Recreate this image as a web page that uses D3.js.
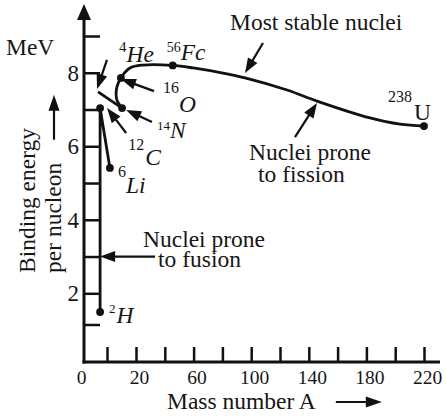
<!DOCTYPE html>
<html>
<head>
<meta charset="utf-8">
<script src="https://cdn.jsdelivr.net/npm/d3@7"></script>
<style>
  html, body { margin: 0; padding: 0; background: #fff; }
  svg { display: block; }
  text { font-family: "Liberation Serif", "Times New Roman", serif; fill: #161616; }
</style>
</head>
<body>
<svg id="chart" width="446" height="416"></svg>
<script>
// Binding energy per nucleon against mass number (schematic textbook curve)

// axis ticks and labels
const xTickValues = [10, 20, 40, 60, 80, 100, 120, 140, 160, 180, 200, 220];
const xTickLabels = [0, 20, 60, 100, 140, 180, 220];
const yTickValues = [1, 2, 3, 4, 5, 6, 7, 8, 9];
const yTickLabels = [2, 4, 6, 8];

// marked nuclides
const nuclideNames  = ["2H", "4He", "6Li", "14N", "16O", "56Fc", "238U"];
const nuclideMass   = [7, 7, 11, 15.2, 14.8, 45.5, 220];
const nuclideEnergy = [1.4, 7.04, 5.41, 7.04, 7.86, 8.2, 6.55];

// light branch: 2H straight up to 4He, then down to 6Li
const lightMass   = [7, 7, 11];
const lightEnergy = [1.4, 7.04, 5.41];

// short stretch through 12C into 14N
const carbonMass   = [6.1, 15.2];
const carbonEnergy = [7.48, 7.04];

// main curve from 14N over 16O and the iron peak down to 238U
const mainMass   = [15.2, 13.4, 13.4, 14.8, 17.9, 24.9, 45.5, 59.7, 80.4, 95.7, 124.9, 145.7, 182.5, 203.3, 220];
const mainEnergy = [7.04, 7.26, 7.61, 7.86, 8.13, 8.21, 8.2, 8.13, 7.99, 7.86, 7.53, 7.23, 6.77, 6.6, 6.55];

// ---------------------------------------------------------------------------
const svg = d3.select("#chart");
const INK = "#111";

// the printed axes are not evenly spaced at the low end, hence piecewise scales
const x = d3.scaleLinear().domain([0, 10, 20, 220]).range([84, 107, 136, 424]);
const y = d3.scaleLinear().domain([0, 1, 2, 9]).range([362, 324.5, 293.3, 36]);

const FONT = 23.5;

function arrow(g, x1, y1, x2, y2, len, half, width) {
  const dx = x2 - x1, dy = y2 - y1;
  const L = Math.hypot(dx, dy);
  const ux = dx / L, uy = dy / L;
  const bx = x2 - ux * len, by = y2 - uy * len;
  g.append("line")
    .attr("x1", x1).attr("y1", y1)
    .attr("x2", x2 - ux * (len * 0.6)).attr("y2", y2 - uy * (len * 0.6))
    .attr("stroke", INK).attr("stroke-width", width);
  g.append("path")
    .attr("d", `M${x2},${y2}L${bx - uy * half},${by + ux * half}L${bx + uy * half},${by - ux * half}Z`)
    .attr("fill", INK);
}

// ---- axes -----------------------------------------------------------------
const axes = svg.append("g");

// vertical axis with arrow head
arrow(axes, x(0), y(0) + 1.5, x(0), 4, 16, 7, 3);
// horizontal axis line
axes.append("line")
  .attr("x1", x(0) - 1.5).attr("x2", 440)
  .attr("y1", y(0)).attr("y2", y(0))
  .attr("stroke", INK).attr("stroke-width", 3);

// x ticks pointing up into the plot
const xTicks = axes.append("g")
  .attr("transform", `translate(0,${y(0)})`)
  .call(d3.axisBottom(x).tickValues(xTickValues).tickSize(-15).tickFormat(""));
xTicks.select(".domain").remove();
xTicks.selectAll(".tick line").attr("stroke", INK).attr("stroke-width", 2.5);

const xLabels = axes.append("g")
  .attr("transform", `translate(0,${y(0)})`)
  .call(d3.axisBottom(x).tickValues(xTickLabels).tickSize(0).tickPadding(8).tickFormat(d3.format("d")));
xLabels.select(".domain").remove();
xLabels.selectAll("text")
  .attr("font-family", null)
  .style("font-size", "19.5px")
  .attr("fill", "#1a1a1a")
  .attr("dx", d => d === 0 ? -3 : 3);

// y ticks pointing right
const yTicks = axes.append("g")
  .attr("transform", `translate(${x(0)},0)`)
  .call(d3.axisRight(y).tickValues(yTickValues).tickSize(16).tickFormat(""));
yTicks.select(".domain").remove();
yTicks.selectAll(".tick line").attr("stroke", INK).attr("stroke-width", 2.5);

const yLabels = axes.append("g")
  .attr("transform", `translate(${x(0)},0)`)
  .call(d3.axisLeft(y).tickValues(yTickLabels).tickSize(0).tickPadding(5).tickFormat(d3.format("d")));
yLabels.select(".domain").remove();
yLabels.selectAll("text")
  .attr("font-family", null)
  .style("font-size", "23px")
  .attr("fill", "#1a1a1a");

// unit
svg.append("text").attr("x", 6).attr("y", 55).style("font-size", FONT + "px").text("MeV");

// y title, two rotated lines plus an upward arrow
const yt1 = svg.append("text")
  .attr("transform", "translate(35,273) rotate(-90)")
  .style("font-size", FONT + "px").text("Binding energy");
const yt2 = svg.append("text")
  .attr("transform", "translate(61,273) rotate(-90)")
  .style("font-size", FONT + "px").text("per nucleon");
{
  const end = 273 - yt2.node().getComputedTextLength();
  arrow(svg, 54, end - 23, 54, end - 68, 16, 5.5, 2.2);
}

// x title with right arrow
const xt = svg.append("text").attr("x", 167).attr("y", 409)
  .style("font-size", FONT + "px").text("Mass number A");
{
  const end = 167 + xt.node().getComputedTextLength();
  arrow(svg, end + 20, 402, end + 66, 402, 16, 5.5, 2);
}

// ---- curve ----------------------------------------------------------------
const plot = svg.append("g");

const straight = d3.line().x(d => x(d[0])).y(d => y(d[1]));
const smooth = d3.line().x(d => x(d[0])).y(d => y(d[1])).curve(d3.curveCatmullRom.alpha(0.5));

plot.append("path")
  .attr("d", straight(d3.zip(lightMass, lightEnergy)))
  .attr("fill", "none").attr("stroke", INK).attr("stroke-width", 2.8).attr("stroke-linejoin", "round");
plot.append("path")
  .attr("d", straight(d3.zip(carbonMass, carbonEnergy)))
  .attr("fill", "none").attr("stroke", INK).attr("stroke-width", 2.8);
plot.append("path")
  .attr("d", smooth(d3.zip(mainMass, mainEnergy)))
  .attr("fill", "none").attr("stroke", INK).attr("stroke-width", 2.8).attr("stroke-linejoin", "round");

plot.selectAll("circle.nuclide")
  .data(d3.zip(nuclideNames, nuclideMass, nuclideEnergy))
  .join("circle")
  .attr("class", "nuclide")
  .attr("cx", d => x(d[1])).attr("cy", d => y(d[2]))
  .attr("r", 3.9).attr("fill", INK);

// ---- callouts -------------------------------------------------------------
// arrow tail and tip, in chart units
const callouts = [
  { from: [108.2, 8.81], to: [95.7, 7.99] },   // most stable
  { from: [130.4, 6.25], to: [145.7, 7.18] },  // fission
  { from: [33.2, 3.0],  to: [7, 3.0] },        // fusion
  { from: [10, 8.35],   to: [5.65, 7.56] },    // 4He
  { from: [32.5, 7.5],  to: [14.8, 7.83] },    // 16O
  { from: [31.1, 6.66], to: [16.6, 6.99] },    // 14N
  { from: [16.6, 6.36], to: [10, 7.04] }       // 12C
];
const notes = svg.append("g");
callouts.forEach(c => arrow(notes, x(c.from[0]), y(c.from[1]), x(c.to[0]), y(c.to[1]), 15, 5.5, 2.2));

function block(lines) {
  lines.forEach(l => notes.append("text").attr("x", l[0]).attr("y", l[1])
    .style("font-size", FONT + "px").text(l[2]));
}
block([[230, 30, "Most stable nuclei"]]);
block([[249, 160, "Nuclei prone"], [258, 182, "to fission"]]);
block([[143, 247, "Nuclei prone"], [158, 267, "to fusion"]]);

// nuclide labels: mass number raised before the symbol
const nuclideLabels = [
  { ref: () => [x(nuclideMass[0]), y(nuclideEnergy[0])], dx: 9,  dy: 11,  sup: "2",   sym: "H",  supSize: 13, rise: 10, gap: 1, italic: true },
  { ref: () => [x(nuclideMass[1]), y(nuclideEnergy[1])], dx: 19, dy: -46, sup: "4",   sym: "He", supSize: 15, rise: 10, gap: 0, italic: true },
  { ref: () => [x(nuclideMass[2]), y(nuclideEnergy[2])], dx: 8,  dy: 25,  sup: "6",   sym: "Li", supSize: 16, rise: 16, gap: 0, italic: true },
  { ref: () => [x(nuclideMass[3]), y(nuclideEnergy[3])], dx: 35, dy: 30,  sup: "14",  sym: "N",  supSize: 13, rise: 8,  gap: 0, italic: true },
  { ref: () => [x(nuclideMass[4]), y(nuclideEnergy[4])], dx: 42, dy: 34,  sup: "16",  sym: "O",  supSize: 16, rise: 19, gap: 0, italic: true },
  { ref: () => [x(nuclideMass[5]), y(nuclideEnergy[5])], dx: -6, dy: -5,  sup: "56",  sym: "Fc", supSize: 14, rise: 8,  gap: 0, italic: true },
  { ref: () => [x(nuclideMass[6]), y(nuclideEnergy[6])], dx: -36, dy: -6, sup: "238", sym: "U",  supSize: 16, rise: 18, gap: 2, italic: false },
  { ref: () => [x(callouts[6].from[0]), y(callouts[6].from[1])], dx: 2, dy: 32, sup: "12", sym: "C", supSize: 16, rise: 15, gap: 1, italic: true }
];
nuclideLabels.forEach(l => {
  const [px, py] = l.ref();
  const ax = px + l.dx, ay = py + l.dy;
  const s = notes.append("text").attr("x", ax).attr("y", ay - l.rise)
    .style("font-size", l.supSize + "px").attr("fill", "#2a2a2a").text(l.sup);
  const w = s.node().getComputedTextLength();
  notes.append("text").attr("x", ax + w + l.gap).attr("y", ay)
    .style("font-size", FONT + "px")
    .style("font-style", l.italic ? "italic" : "normal")
    .attr("fill", "#2a2a2a")
    .text(l.sym);
});
</script>
</body>
</html>
